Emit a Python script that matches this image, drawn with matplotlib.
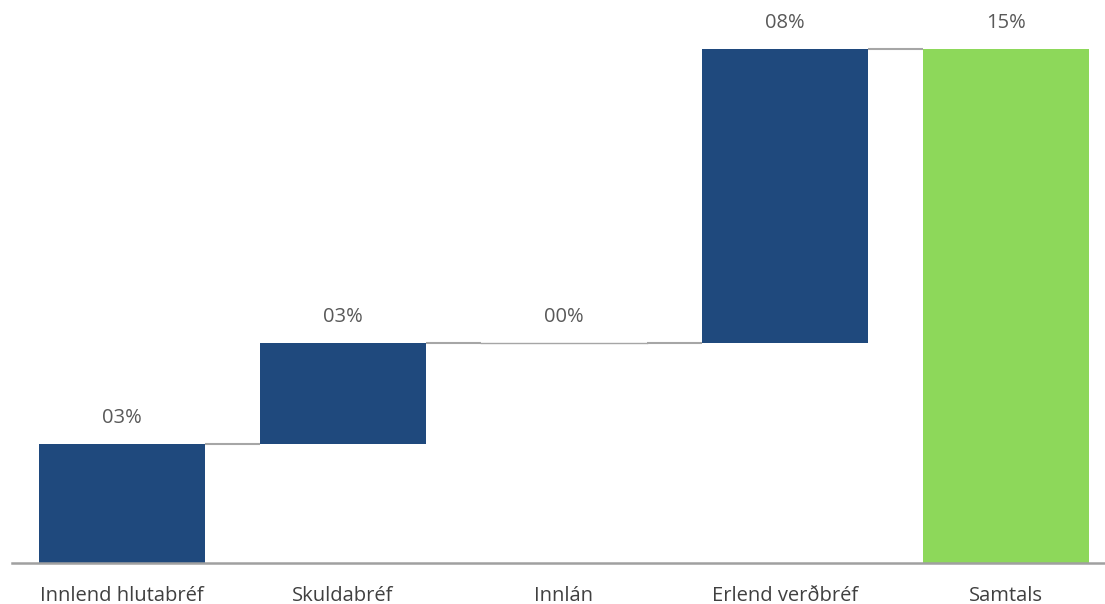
import matplotlib.pyplot as plt

categories = ["Innlend hlutabréf", "Skuldabréf", "Innlán", "Erlend verðbréf", "Samtals"]
changes = [3.47, 2.95, 0.0, 8.58]
labels = ["03%", "03%", "00%", "08%", "15%"]

blue = "#1F497D"
green = "#8DD85A"
grey_line = "#A6A6A6"

plt.rcParams['font.family'] = ['Open Sans', 'DejaVu Sans']

fig = plt.figure(figsize=(11.05, 6.04), dpi=100)
ax = fig.add_axes([11.5 / 1105, 41 / 604, 1.0, 553 / 604])

total = sum(changes)
width = 0.75
bottom = 0.0
tops = []
for i, c in enumerate(changes):
    ax.bar(i, c, width=width, bottom=bottom, color=blue, zorder=2)
    bottom += c
    tops.append(bottom)
ax.bar(len(changes), total, width=width, color=green, zorder=2)
tops.append(total)

# connector lines between bars
for i in range(len(changes)):
    ax.plot([i + width / 2, i + 1 - width / 2], [tops[i], tops[i]],
            color=grey_line, lw=1.5, zorder=1, solid_capstyle='butt')
# zero bar shows as line
ax.plot([2 - width / 2, 2 + width / 2], [tops[2], tops[2]],
        color=grey_line, lw=1.0, zorder=1)

for i, lab in enumerate(labels):
    ax.annotate(lab, (i, tops[i]), xytext=(0, 11.5), textcoords='offset points',
                ha='center', va='bottom', fontsize=14.5, color="#595959")

ax.set_xlim(-0.5, 4.5)
ax.set_ylim(0, 553 / 514 * 15)
ax.set_xticks(range(len(categories)))
ax.set_xticklabels(categories, fontsize=14.5, color="#404040")
ax.tick_params(axis='x', length=0, pad=16.5)
ax.set_yticks([])
for s in ['top', 'right', 'left']:
    ax.spines[s].set_visible(False)
ax.spines['bottom'].set_color("#A0A0A0")
ax.spines['bottom'].set_linewidth(1.8)

fig.savefig("out.png", dpi=100)
